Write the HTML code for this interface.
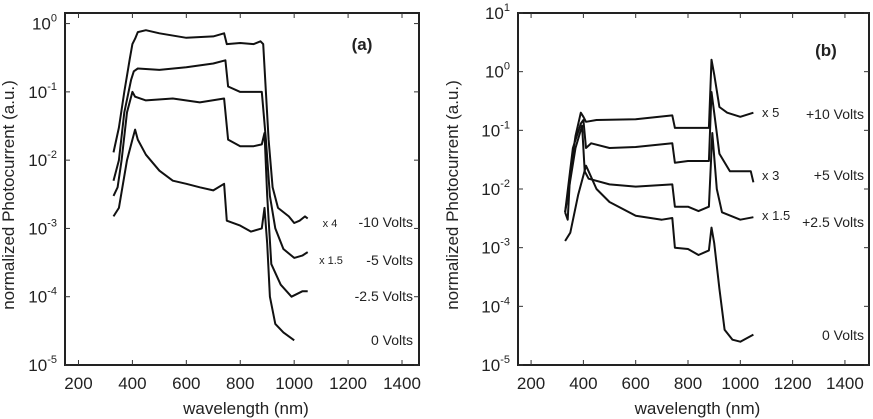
<!DOCTYPE html>
<html><head><meta charset="utf-8"><style>
html,body{margin:0;padding:0;background:#fff}
svg{display:block;font-family:"Liberation Sans",Arial,sans-serif}
</style></head><body>
<svg id="fig" width="873" height="419" viewBox="0 0 873 419"></svg>
<script>
const NS="http://www.w3.org/2000/svg";
const xTicks=[200,400,600,800,1000,1200,1400];
const yExpA=[0,-1,-2,-3,-4,-5];
const yExpB=[1,0,-1,-2,-3,-4,-5];
// panel (a) series: wavelengths + values
const aM10w=[330,350,370,390,400,410,420,450,500,600,700,740,750,800,850,875,885,895,905,920,940,980,1000,1020,1040,1050];
const aM10v=[0.013,0.03,0.1,0.3,0.5,0.6,0.75,0.8,0.72,0.62,0.65,0.72,0.5,0.52,0.5,0.55,0.5,0.1,0.02,0.004,0.002,0.0015,0.0012,0.0013,0.0015,0.0014];
const aM5w=[330,350,370,395,405,420,500,600,700,745,755,800,850,880,895,910,930,960,1000,1030,1050];
const aM5v=[0.005,0.01,0.05,0.15,0.2,0.22,0.21,0.23,0.26,0.29,0.12,0.1,0.1,0.1,0.02,0.003,0.001,0.0005,0.00037,0.0004,0.00045];
const aM25w=[330,345,360,380,400,410,450,550,650,740,755,800,850,880,890,900,915,950,990,1030,1050];
const aM25v=[0.003,0.004,0.01,0.05,0.1,0.085,0.075,0.08,0.07,0.08,0.02,0.016,0.016,0.017,0.025,0.003,0.0003,0.00015,0.0001,0.00012,0.00012];
const a0w=[330,350,380,400,410,420,450,500,550,600,650,700,740,750,800,840,880,890,900,910,930,960,1000];
const a0v=[0.0015,0.002,0.01,0.02,0.028,0.02,0.012,0.007,0.005,0.0045,0.004,0.0036,0.0045,0.0013,0.0011,0.0009,0.001,0.002,0.0006,0.0001,0.00004,0.00003,0.000023];
// panel (b) series
const bP10w=[330,340,350,370,390,400,410,450,600,740,750,800,880,890,900,920,950,1000,1050];
const bP10v=[0.004,0.003,0.02,0.08,0.2,0.17,0.14,0.15,0.155,0.18,0.11,0.11,0.11,1.6,0.9,0.25,0.2,0.17,0.2];
const bP5w=[330,360,390,400,410,430,500,600,740,750,800,880,890,900,920,960,1040,1050];
const bP5v=[0.004,0.05,0.13,0.15,0.05,0.06,0.05,0.052,0.06,0.028,0.03,0.03,0.45,0.2,0.04,0.02,0.02,0.013];
const bP25w=[330,370,395,405,420,500,600,740,750,800,840,880,893,910,930,1000,1050];
const bP25v=[0.004,0.05,0.12,0.02,0.015,0.012,0.011,0.012,0.005,0.005,0.0042,0.005,0.09,0.01,0.004,0.003,0.0033];
const b0w=[330,350,380,410,420,450,500,600,700,740,750,800,840,880,890,900,920,940,970,1000,1050];
const b0v=[0.0013,0.0018,0.008,0.025,0.02,0.01,0.006,0.0035,0.003,0.0032,0.001,0.00095,0.00075,0.0009,0.0022,0.0012,0.0002,0.00004,0.000027,0.000025,0.000033];

const svg=document.getElementById('fig');
function el(tag,attrs,parent){const e=document.createElementNS(NS,tag);for(const k in attrs)e.setAttribute(k,attrs[k]);(parent||svg).appendChild(e);return e;}

function panel(cfg){
  const g=el('g',{});
  
  
  const X=w=>cfg.L+(w-cfg.x0)/(cfg.x1-cfg.x0)*(cfg.R-cfg.L);
  const Y=v=>cfg.T+(cfg.e1-Math.log10(v))/(cfg.e1-cfg.e0)*(cfg.B-cfg.T);
  const f=el('rect',{x:cfg.L,y:cfg.T,width:cfg.R-cfg.L,height:cfg.B-cfg.T,fill:'none',stroke:'#222','stroke-width':2},g);
  
  
  xTicks.forEach(t=>{const x=X(t);
    el('line',{x1:x,y1:cfg.B,x2:x,y2:cfg.B-5,stroke:'#333'},g);
    el('line',{x1:x,y1:cfg.T,x2:x,y2:cfg.T+5,stroke:'#333'},g);
    const tx=el('text',{x:x,y:cfg.B+24,'font-size':17,'text-anchor':'middle',fill:'#222'},g);tx.textContent=t;
    
    
  });
  cfg.yExp.forEach(e=>{const y=Y(Math.pow(10,e));
    el('line',{x1:cfg.L,y1:y,x2:cfg.L+5,y2:y,stroke:'#333'},g);
    el('line',{x1:cfg.R,y1:y,x2:cfg.R-5,y2:y,stroke:'#333'},g);
    const tx=el('text',{x:cfg.L-8,y:y+6,'font-size':17,'text-anchor':'end',fill:'#222'},g);
    tx.textContent='10';
    const s=el('tspan',{dy:-8,'font-size':11},tx);s.textContent=e;
    
    
  });
  const xt=el('text',{x:(cfg.L+cfg.R)/2+4,y:414,'font-size':17,'text-anchor':'middle',fill:'#222'},g);
  xt.textContent='wavelength (nm)';
  
  
  const yt=el('text',{x:0,y:0,'font-size':17,'text-anchor':'middle',fill:'#222',transform:`translate(${cfg.ytx},${(cfg.T+cfg.B)/2+6}) rotate(-90)`},g);
  yt.textContent='normalized Photocurrent (a.u.)';
  
  
  cfg.series.forEach(s=>{
    const d=s.w.map((w,i)=>(i?'L':'M')+X(w).toFixed(1)+' '+Y(s.v[i]).toFixed(1)).join(' ');
    const p=el('path',{d:d,fill:'none',stroke:'#111','stroke-width':2,'stroke-linejoin':'round'},g);
    
    
  });
  cfg.labels.forEach(l=>{
    const t=el('text',{x:l[0],y:l[1],'font-size':l[3],'text-anchor':l[4],fill:'#222','font-weight':l[5]||'normal'},g);
    t.textContent=l[2];
    
    
  });
}
panel({name:'panel-a',L:65,R:419,T:13,B:365,x0:150,x1:1463,e1:0.155,e0:-5,yExp:yExpA,ytx:14,
  series:[{name:'curve-minus-10v',w:aM10w,v:aM10v},{name:'curve-minus-5v',w:aM5w,v:aM5v},{name:'curve-minus-2-5v',w:aM25w,v:aM25v},{name:'curve-0v',w:a0w,v:a0v}],
  labels:[[362,50,'(a)',17,'middle','bold'],[413,227,'-10 Volts',14,'end'],[413,265,'-5 Volts',14,'end'],[413,301,'-2.5 Volts',14,'end'],[413,345,'0 Volts',14,'end'],
    [330,227,'x 4',11,'middle'],[331,264,'x 1.5',11,'middle']]});
panel({name:'panel-b',L:518,R:869,T:13,B:365,x0:150,x1:1492,e1:1,e0:-5,yExp:yExpB,ytx:458,
  series:[{name:'curve-plus-10v',w:bP10w,v:bP10v},{name:'curve-plus-5v',w:bP5w,v:bP5v},{name:'curve-plus-2-5v',w:bP25w,v:bP25v},{name:'curve-0v',w:b0w,v:b0v}],
  labels:[[826,56,'(b)',17,'middle','bold'],[864,119,'+10 Volts',14,'end'],[864,180,'+5 Volts',14,'end'],[864,227,'+2.5 Volts',14,'end'],[864,340,'0 Volts',14,'end'],
    [762,117,'x 5',13,'start'],[762,180,'x 3',13,'start'],[762,220,'x 1.5',13,'start']]});
</script>
</body></html>
